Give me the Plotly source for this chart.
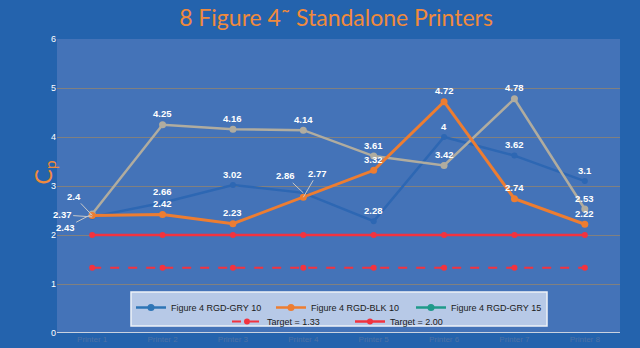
import plotly.graph_objects as go

printers = ["Printer 1", "Printer 2", "Printer 3", "Printer 4",
            "Printer 5", "Printer 6", "Printer 7", "Printer 8"]
gry10 = [2.37, 2.66, 3.02, 2.86, 2.28, 4.00, 3.62, 3.10]
blk10 = [2.40, 2.42, 2.23, 2.77, 3.32, 4.72, 2.74, 2.22]
gry15 = [2.43, 4.25, 4.16, 4.14, 3.61, 3.42, 4.78, 2.53]
target_low = [1.33] * 8
target_high = [2.00] * 8

BLUE = "#2d67b3"
BLUE_LEG = "#2e75b6"
ORANGE = "#ed7d31"
GRAY = "#b0ac9f"
TEAL = "#1f9a8a"
RED = "#f2333f"

PL, PR, PT, PB = 57, 20, 39, 15
W, H = 640, 348
PW = W - PL - PR
PH = H - PT - PB


def px_x(px):
    return (px - PL) / PW


def px_y(py):
    return (H - PB - py) / PH


fig = go.Figure()

# Target lines
fig.add_trace(go.Scatter(x=printers, y=target_low, name="Target = 1.33", mode="lines+markers",
                         line=dict(color=RED, width=2, dash="dash"),
                         marker=dict(color=RED, size=6), legend="legend2"))
fig.add_trace(go.Scatter(x=printers, y=target_high, name="Target = 2.00", mode="lines+markers",
                         line=dict(color=RED, width=2.5),
                         marker=dict(color=RED, size=6), legend="legend2"))

# Series
fig.add_trace(go.Scatter(x=printers, y=gry10, name="Figure 4 RGD-GRY 10", mode="lines+markers",
                         line=dict(color=BLUE, width=2.5), marker=dict(color=BLUE, size=6),
                         showlegend=False))
fig.add_trace(go.Scatter(x=printers, y=gry15, name="Figure 4 RGD-GRY 15", mode="lines+markers",
                         line=dict(color=GRAY, width=2.5), marker=dict(color=GRAY, size=7),
                         showlegend=False))
fig.add_trace(go.Scatter(x=printers, y=blk10, name="Figure 4 RGD-BLK 10", mode="lines+markers",
                         line=dict(color=ORANGE, width=3), marker=dict(color=ORANGE, size=7),
                         showlegend=False))

# Legend-only entries (row 1)
for nm, col in [("Figure 4 RGD-GRY 10", BLUE_LEG), ("Figure 4 RGD-BLK 10", ORANGE),
                ("Figure 4 RGD-GRY 15", TEAL)]:
    fig.add_trace(go.Scatter(x=[None], y=[None], name=nm, mode="lines+markers",
                             line=dict(color=col, width=2.5), marker=dict(color=col, size=7),
                             legend="legend"))

# Data labels
special = {
    ("gry10", 0): (-30, -2), ("blk10", 0): (-18, -19), ("gry15", 0): (-27, 14),
    ("gry10", 3): (-18, -17), ("blk10", 3): (14, -24),
}
LBL_FONT = dict(color="white", size=9.5, family="Liberation Sans")
ann = []
for key, vals in [("gry10", gry10), ("blk10", blk10), ("gry15", gry15)]:
    for i, v in enumerate(vals):
        txt = f"<b>{v:g}</b>"
        if (key, i) in special:
            ax, ay = special[(key, i)]
            ann.append(dict(x=printers[i], y=v, text=txt, showarrow=True, arrowhead=0,
                            arrowwidth=1, arrowcolor="#c8c8c8", ax=ax, ay=ay, font=LBL_FONT))
        else:
            ann.append(dict(x=printers[i], y=v, text=txt, showarrow=False, yshift=11,
                            font=LBL_FONT))

ann.append(dict(xref="paper", yref="paper", x=px_x(27), y=px_y(173), text="C<sub>p</sub>",
                textangle=-90, showarrow=False,
                font=dict(color="#f08a3c", size=23, family="Lato")))

fig.update_layout(annotations=ann)

fig.add_shape(type="rect", xref="paper", yref="paper",
              x0=px_x(131), x1=px_x(547), y0=px_y(326), y1=px_y(292),
              fillcolor="#b7c9e7", line=dict(color="#eef2f8", width=1.5), layer="above")
fig.add_shape(type="line", xref="paper", yref="y", x0=0, x1=1, y0=0, y1=0,
              line=dict(color="#c9d2e0", width=2), layer="above")

fig.update_layout(
    width=W, height=H,
    margin=dict(l=PL, r=PR, t=PT, b=PB),
    paper_bgcolor="#2463ad",
    plot_bgcolor="#4473b8",
    title=dict(text="8 Figure 4˜ Standalone Printers", x=336 / W, xanchor="center",
               y=1 - 18 / H, yanchor="middle",
               font=dict(color="#f08a3c", size=23, family="Lato")),
    xaxis=dict(type="category", range=[-0.5, 7.5], showgrid=False, zeroline=False,
               showline=False, ticks="", automargin=False,
               tickfont=dict(color="#4f72a4", size=8, family="Liberation Sans")),
    yaxis=dict(range=[0, 6], dtick=1, showgrid=True, gridcolor="#808080", gridwidth=1,
               zeroline=False, showline=False, ticks="", automargin=False,
               tickfont=dict(color="white", size=9, family="Liberation Sans")),
    legend=dict(orientation="h", x=px_x(131), xanchor="left", y=px_y(293), yanchor="top",
                bgcolor="rgba(0,0,0,0)", entrywidth=95, entrywidthmode="pixels",
                font=dict(color="#1a1a1a", size=9, family="Liberation Sans"),
                traceorder="normal"),
    legend2=dict(orientation="h", x=px_x(227), xanchor="left", y=px_y(307), yanchor="top",
                 bgcolor="rgba(0,0,0,0)", entrywidth=78, entrywidthmode="pixels",
                 font=dict(color="#1a1a1a", size=9, family="Liberation Sans"),
                 traceorder="normal"),
)

fig.write_html("out.html")
